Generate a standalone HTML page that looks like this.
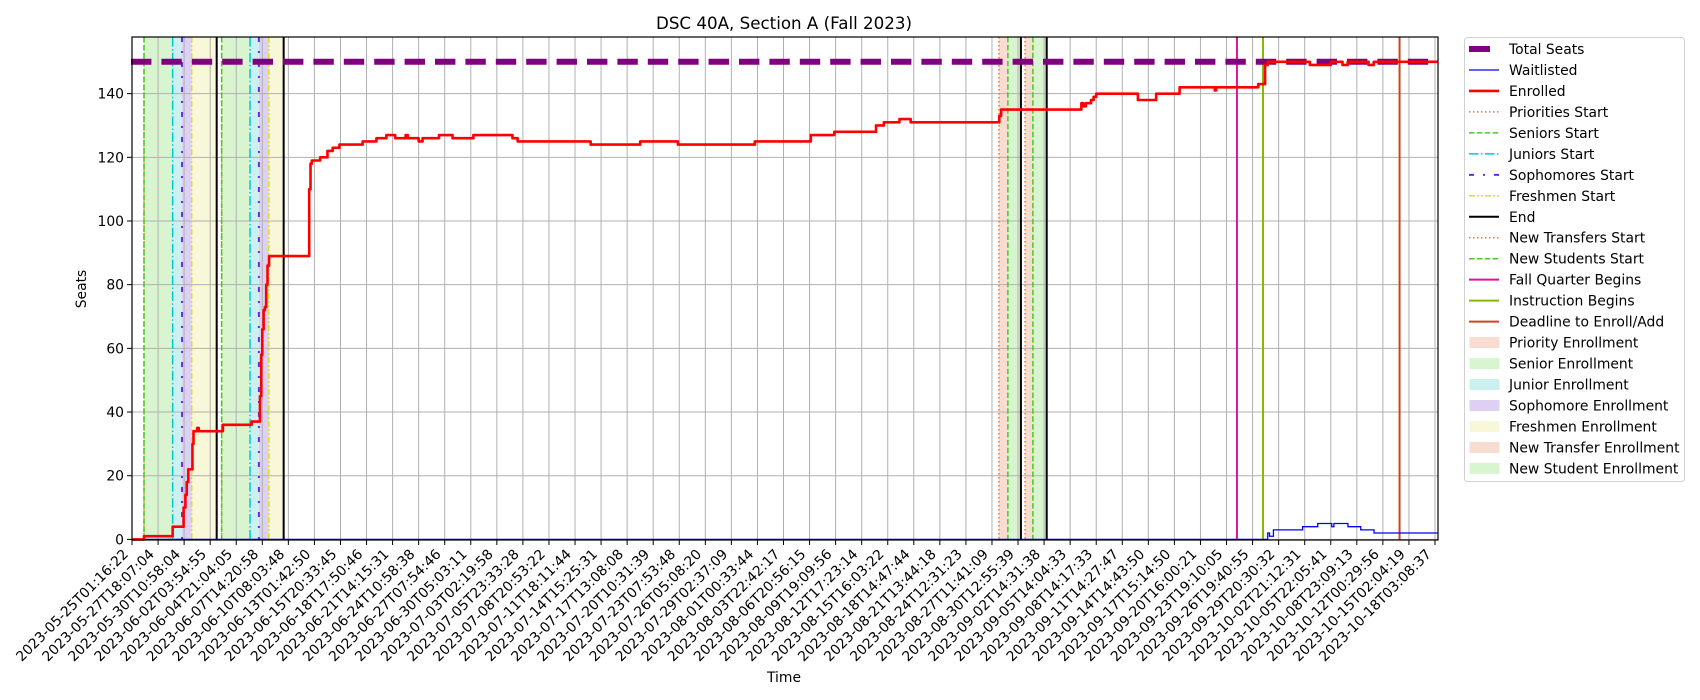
<!DOCTYPE html>
<html><head><meta charset="utf-8"><style>
html,body{margin:0;padding:0;background:#fff}
svg{display:block;font-family:"DejaVu Sans","Liberation Sans",sans-serif}
</style></head><body>
<svg id="chart" width="1700" height="700" viewBox="0 0 1700 700" xmlns="http://www.w3.org/2000/svg">
<rect width="1700" height="700" fill="#fff"/>
<text x="784" y="29" font-size="16.7" text-anchor="middle">DSC 40A, Section A (Fall 2023)</text>
<g id="plot"></g>
<text x="784" y="682" font-size="13.9" text-anchor="middle">Time</text>
<text x="86" y="289" font-size="13.9" text-anchor="middle" transform="rotate(-90 86 289)">Seats</text>
<g id="legend"></g>
</svg>
<script>
const tickLabels = ["2023-05-25T01:16:22","2023-05-27T18:07:04","2023-05-30T10:58:04","2023-06-02T03:54:55","2023-06-04T21:04:05","2023-06-07T14:20:58","2023-06-10T08:03:48","2023-06-13T01:42:50","2023-06-15T20:33:45","2023-06-18T17:50:46","2023-06-21T14:15:31","2023-06-24T10:58:38","2023-06-27T07:54:46","2023-06-30T05:03:11","2023-07-03T02:19:58","2023-07-05T23:33:28","2023-07-08T20:53:22","2023-07-11T18:11:44","2023-07-14T15:25:31","2023-07-17T13:08:08","2023-07-20T10:31:39","2023-07-23T07:53:48","2023-07-26T05:08:20","2023-07-29T02:37:09","2023-08-01T00:33:44","2023-08-03T22:42:17","2023-08-06T20:56:15","2023-08-09T19:09:56","2023-08-12T17:23:14","2023-08-15T16:03:22","2023-08-18T14:47:44","2023-08-21T13:44:18","2023-08-24T12:31:23","2023-08-27T11:41:09","2023-08-30T12:55:39","2023-09-02T14:31:38","2023-09-05T14:04:33","2023-09-08T14:17:33","2023-09-11T14:27:47","2023-09-14T14:43:50","2023-09-17T15:14:50","2023-09-20T16:00:21","2023-09-23T19:10:05","2023-09-26T19:40:55","2023-09-29T20:30:32","2023-10-02T21:12:31","2023-10-05T22:05:41","2023-10-08T23:09:13","2023-10-12T00:29:56","2023-10-15T02:04:19","2023-10-18T03:08:37"];
const yTicks = [0,20,40,60,80,100,120,140];
const enrollT = [0,0.46,1.56,1.98,2.05,2.1,2.16,2.32,2.36,2.5,2.56,3.49,4.59,4.91,4.96,5.0,5.05,5.1,5.15,5.2,5.26,6.8,6.85,6.9,7.22,7.5,7.7,7.96,8.85,9.38,9.76,10.1,10.5,10.58,11.0,11.15,11.78,12.3,13.1,14.6,14.8,17.6,19.5,20.95,23.9,26.05,26.95,28.55,28.85,29.45,29.88,33.28,33.35,36.43,36.5,36.6,36.8,36.9,37.0,38.6,39.3,40.2,41.55,41.6,43.22,43.48,43.58,45.2,46.0,46.45,46.65,47.45,47.65];
const enrollV = [0,1,4,10,14,18,22,30,34,35,34,36,37,45,58,66,72,73,80,86,89,110,118,119,120,122,123,124,125,126,127,126,127,126,125,126,127,126,127,126,125,124,125,124,125,127,128,130,131,132,131,133,135,137,136,137,138,139,140,138,140,142,141,142,143,149,150,149,150,149,150,149,150];
const waitT = [0,43.58,43.65,43.8,44.92,45.5,46.04,46.12,46.66,47.15,47.66];
const waitV = [0,2,1,3,4,5,4,5,4,3,2];
const totalSeats = [150,150];
const tEnd = 50.13;
const vlines = [
 {t:0.46,c:"#ee7733",d:"1.5 2.5",w:1.5,n:"priorities-start"},{t:0.46,c:"#44cc22",d:"5.5 2.4",w:1.5,n:"seniors-start"},
 {t:1.56,c:"#00c8d8",d:"9.6 2.4 1.5 2.4",w:1.5,n:"juniors-start"},{t:1.92,c:"#6a2be0",d:"5 9 2 9",w:2,n:"sophomores-start"},
 {t:2.29,c:"#dddd33",d:"6 2 2 2 2 2",w:1.5,n:"freshmen-start"},{t:3.25,c:"#000",d:"",w:2,n:"end"},
 {t:3.44,c:"#ee7733",d:"1.5 2.5",w:1.5,n:"priorities-start"},{t:3.44,c:"#44cc22",d:"5.5 2.4",w:1.5,n:"seniors-start"},
 {t:4.53,c:"#00c8d8",d:"9.6 2.4 1.5 2.4",w:1.5,n:"juniors-start"},{t:4.87,c:"#6a2be0",d:"5 9 2 9",w:2,n:"sophomores-start"},
 {t:5.25,c:"#dddd33",d:"6 2 2 2 2 2",w:1.5,n:"freshmen-start"},{t:5.82,c:"#000",d:"",w:2,n:"end"},
 {t:33.27,c:"#ee7733",d:"1.5 2.5",w:1.5,n:"new-transfers-start"},{t:33.61,c:"#44cc22",d:"5.5 2.4",w:1.5,n:"new-students-start"},
 {t:34.11,c:"#000",d:"",w:2,n:"end"},
 {t:34.27,c:"#ee7733",d:"1.5 2.5",w:1.5,n:"new-transfers-start"},{t:34.57,c:"#44cc22",d:"5.5 2.4",w:1.5,n:"new-students-start"},
 {t:35.10,c:"#000",d:"",w:2,n:"end"},
 {t:42.40,c:"#e0119d",d:"",w:2,n:"fall-quarter-begins"},{t:43.40,c:"#8ab800",d:"",w:2,n:"instruction-begins"},
 {t:48.64,c:"#cc4422",d:"",w:2,n:"deadline-to-enroll"}];
const spans = [
 {a:0.46,b:1.56,c:"#d8f5d0",n:"senior-enrollment-span"},{a:1.56,b:1.92,c:"#ccf0f0",n:"junior-enrollment-span"},
 {a:1.92,b:2.29,c:"#ddd0f3",n:"sophomore-enrollment-span"},{a:2.29,b:3.25,c:"#f8f8d8",n:"freshmen-enrollment-span"},
 {a:3.44,b:4.53,c:"#d8f5d0",n:"senior-enrollment-span"},{a:4.53,b:4.87,c:"#ccf0f0",n:"junior-enrollment-span"},
 {a:4.87,b:5.25,c:"#ddd0f3",n:"sophomore-enrollment-span"},{a:5.25,b:5.82,c:"#f8f8d8",n:"freshmen-enrollment-span"},
 {a:33.27,b:33.61,c:"#f8dccf",n:"new-transfer-enrollment-span"},{a:33.61,b:34.11,c:"#d8f5d0",n:"new-student-enrollment-span"},
 {a:34.27,b:34.57,c:"#f8dccf",n:"new-transfer-enrollment-span"},{a:34.57,b:35.10,c:"#d8f5d0",n:"new-student-enrollment-span"}];

const L=132, TW=26.06, R=1438, TOP=37, Y0=539.4, YS=3.184, BOT=540;
const X = t => L + t*TW;
const Y = v => Y0 - v*YS;
const NS="http://www.w3.org/2000/svg";
const plot=document.getElementById('plot');
function mk(tag, attrs, parent){const e=document.createElementNS(NS,tag);for(const k in attrs)e.setAttribute(k,attrs[k]);(parent||plot).appendChild(e);return e;}

spans.forEach(s=>{
 const r=mk('rect',{x:X(s.a),y:TOP,width:X(s.b)-X(s.a),height:BOT-TOP,fill:s.c});
 
 
});
tickLabels.forEach((lab,i)=>{
 const x=X(i);
 const g=mk('line',{x1:x,x2:x,y1:TOP,y2:BOT,stroke:"#b0b0b0","stroke-width":1});
 
 
 const tk=mk('line',{x1:x,x2:x,y1:BOT,y2:BOT+5,stroke:"#000","stroke-width":1});
 
 
 const t=mk('text',{x:0,y:0,"font-size":13.9,"text-anchor":"end",transform:`translate(${x-3},${555}) rotate(-45)`});
 t.textContent=lab;
 
 
});
yTicks.forEach(v=>{
 const y=Y(v);
 const g=mk('line',{x1:L,x2:R,y1:y,y2:y,stroke:"#b0b0b0","stroke-width":1});
 
 
 const tk=mk('line',{x1:L-5,x2:L,y1:y,y2:y,stroke:"#000","stroke-width":1});
 
 
 const t=mk('text',{x:L-8,y:y+5,"font-size":13.9,"text-anchor":"end"});
 t.textContent=v;
 
 
});
vlines.forEach(l=>{
 const e=mk('line',{x1:X(l.t),x2:X(l.t),y1:TOP,y2:BOT,stroke:l.c,"stroke-width":l.w});
 if(l.d) e.setAttribute('stroke-dasharray',l.d);
 
 
});
const ts=mk('line',{x1:X(0)-1,x2:R,y1:Y(totalSeats[0]),y2:Y(totalSeats[1]),stroke:"#800080","stroke-width":6,"stroke-dasharray":"20.4 10"});


function stepPath(T,V){let d=`M${X(T[0])},${Y(V[0])}`;for(let i=1;i<T.length;i++){d+=` L${X(T[i])},${Y(V[i-1])} L${X(T[i])},${Y(V[i])}`;}d+=` L${X(tEnd)},${Y(V[V.length-1])}`;return d;}
const wl=mk('path',{d:stepPath(waitT,waitV),fill:"none",stroke:"#0000ff","stroke-width":1.3});


const en=mk('path',{d:stepPath(enrollT,enrollV),fill:"none",stroke:"#ff0000","stroke-width":2.6,"stroke-linejoin":"round"});


const fr=mk('rect',{x:L,y:TOP,width:R-L,height:BOT-TOP,fill:"none",stroke:"#000","stroke-width":1.2});



// legend
const lg=document.getElementById('legend');
const lb=mk('rect',{x:1464.5,y:37.5,width:220,height:444,rx:3,fill:"#fff","fill-opacity":0.8,stroke:"#d0d0d0","stroke-width":1},lg);


const items=[
 ["Total Seats","line","#800080","",6],["Waitlisted","line","#0000ff","",1.3],["Enrolled","line","#ff0000","",2.6],
 ["Priorities Start","line","#ee7733","1.5 2.5",1.5],["Seniors Start","line","#44cc22","5.5 2.4",1.5],
 ["Juniors Start","line","#00c8d8","9.6 2.4 1.5 2.4",1.5],["Sophomores Start","line","#6a2be0","5 9 2 9",2],
 ["Freshmen Start","line","#dddd33","6 2 2 2 2 2",1.5],["End","line","#000","",2],
 ["New Transfers Start","line","#ee7733","1.5 2.5",1.5],["New Students Start","line","#44cc22","5.5 2.4",1.5],
 ["Fall Quarter Begins","line","#e0119d","",2],["Instruction Begins","line","#8ab800","",2],
 ["Deadline to Enroll/Add","line","#cc4422","",2],
 ["Priority Enrollment","patch","#f8dccf"],["Senior Enrollment","patch","#d8f5d0"],["Junior Enrollment","patch","#ccf0f0"],
 ["Sophomore Enrollment","patch","#ddd0f3"],["Freshmen Enrollment","patch","#f8f8d8"],["New Transfer Enrollment","patch","#f8dccf"],
 ["New Student Enrollment","patch","#d8f5d0"]];
items.forEach((it,i)=>{
 const y=49+i*20.97;
 const slug=it[0].toLowerCase().replace(/[^a-z]+/g,'-');
 let h;
 if(it[1]==="line"){
  const x2 = i===0 ? 1490 : 1499;
  h=mk('line',{x1:1469,x2:x2,y1:y,y2:y,stroke:it[2],"stroke-width":it[4]},lg);
  if(it[3]) h.setAttribute('stroke-dasharray',it[3]);
 } else {
  h=mk('rect',{x:1470,y:y-5,width:29,height:10,fill:it[2],stroke:it[2]},lg);
 }
 
 
 const t=mk('text',{x:1509,y:y+5,"font-size":13.9},lg);
 t.textContent=it[0];
 
 
});
</script>
</body></html>
